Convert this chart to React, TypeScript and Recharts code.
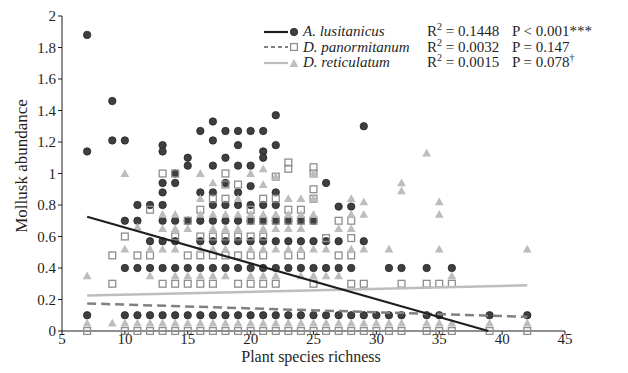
import { ScatterChart, Scatter, XAxis, YAxis } from 'recharts'

// Plant species richness (x) -> mollusk abundance values read per column
const LUSITANICUS: [number, number[]][] = [
  [7, [1.88, 1.14, 0.1]],
  [9, [1.46, 1.21]],
  [10, [1.21, 0.7, 0.4, 0.1]],
  [11, [0.8, 0.7, 0.4, 0.1]],
  [12, [0.8, 0.57, 0.4, 0.1]],
  [13, [1.18, 1.14, 0.94, 0.88, 0.8, 0.7, 0.57, 0.4, 0.1]],
  [14, [1.0, 0.94, 0.7, 0.57, 0.4, 0.1]],
  [15, [1.1, 1.05, 0.7, 0.4, 0.1]],
  [16, [1.27, 0.88, 0.7, 0.57, 0.4, 0.1]],
  [17, [1.33, 1.21, 1.05, 0.88, 0.8, 0.7, 0.57, 0.4, 0.1]],
  [18, [1.27, 1.1, 0.94, 0.8, 0.7, 0.57, 0.4, 0.1]],
  [19, [1.27, 1.18, 1.05, 0.88, 0.8, 0.7, 0.57, 0.4, 0.1]],
  [20, [1.27, 1.05, 0.92, 0.8, 0.7, 0.57, 0.4, 0.1]],
  [21, [1.27, 1.14, 1.1, 0.8, 0.7, 0.57, 0.4, 0.1]],
  [22, [1.37, 1.18, 0.88, 0.8, 0.7, 0.57, 0.4, 0.1]],
  [23, [0.7, 0.57, 0.4, 0.1]],
  [24, [0.7, 0.57, 0.4, 0.1]],
  [25, [0.7, 0.57, 0.4, 0.1]],
  [26, [0.94, 0.57, 0.4, 0.1]],
  [27, [0.79, 0.57, 0.4, 0.1]],
  [28, [0.79, 0.4, 0.1]],
  [29, [1.3, 0.57, 0.1]],
  [30, [0.1]],
  [31, [0.4, 0.1]],
  [32, [0.4, 0.1]],
  [34, [0.4, 0.1]],
  [35, [0.1]],
  [36, [0.4]],
  [39, [0.1]],
  [42, [0.1]],
]

const PANORMITANUM: [number, number[]][] = [
  [7, [0]],
  [9, [0.48, 0.3]],
  [10, [0.6, 0]],
  [11, [0.48, 0]],
  [12, [0.77, 0.48, 0]],
  [13, [1.0, 0.3, 0]],
  [14, [1.0, 0.6, 0.3, 0]],
  [15, [0.7, 0.48, 0.3, 0]],
  [16, [0.77, 0.6, 0.48, 0.3, 0]],
  [17, [0.84, 0.6, 0.48, 0.3, 0]],
  [18, [1.0, 0.93, 0.84, 0.6, 0.48, 0]],
  [19, [0.93, 0.6, 0.48, 0.3, 0]],
  [20, [0.77, 0.7, 0.6, 0.48, 0.3, 0]],
  [21, [0.84, 0.7, 0.6, 0.48, 0.3, 0]],
  [22, [0.98, 0.84, 0.7, 0.3, 0]],
  [23, [1.07, 1.03, 0.77, 0.7, 0.48, 0]],
  [24, [0.77, 0.7, 0.48, 0]],
  [25, [1.04, 1.0, 0.9, 0.84, 0.7, 0.3, 0]],
  [26, [0.59, 0]],
  [27, [0.7, 0.48, 0]],
  [28, [0.7, 0.59, 0.48, 0.3, 0]],
  [29, [0.3, 0]],
  [30, [0]],
  [31, [0]],
  [32, [0.3, 0]],
  [34, [0.3, 0]],
  [35, [0.3, 0]],
  [36, [0.3, 0]],
  [39, [0]],
  [42, [0]],
]

const RETICULATUM: [number, number[]][] = [
  [7, [0.35, 0.05]],
  [9, [0.05]],
  [10, [1.0, 0.52, 0.05]],
  [11, [0.66, 0.05]],
  [12, [0.52, 0.35, 0.05]],
  [13, [0.74, 0.65, 0.52, 0.05]],
  [14, [0.74, 0.65, 0.52, 0.35, 0.05]],
  [15, [0.65, 0.35, 0.05]],
  [16, [1.0, 0.84, 0.74, 0.52, 0.35, 0.05]],
  [17, [0.94, 0.74, 0.65, 0.52, 0.35, 0.05]],
  [18, [0.74, 0.65, 0.52, 0.35, 0.05]],
  [19, [0.84, 0.74, 0.65, 0.05]],
  [20, [1.0, 0.74, 0.52, 0.35, 0.05]],
  [21, [1.03, 0.93, 0.74, 0.65, 0.52, 0.35, 0.05]],
  [22, [0.98, 0.74, 0.65, 0.52, 0.35, 0.05]],
  [23, [0.84, 0.74, 0.65, 0.52, 0.05]],
  [24, [0.84, 0.74, 0.65, 0.52, 0.35, 0.05]],
  [25, [1.0, 0.84, 0.74, 0.52, 0.35, 0.05]],
  [26, [0.52, 0.35, 0.05]],
  [27, [0.65, 0.35, 0.05]],
  [28, [0.84, 0.74, 0.65, 0.52, 0.05]],
  [29, [0.82, 0.74, 0.52, 0.05]],
  [30, [0.05]],
  [31, [0.52, 0.05]],
  [32, [0.94, 0.89, 0.05]],
  [34, [1.13, 0.05]],
  [35, [0.82, 0.74, 0.52, 0.05]],
  [36, [0.35, 0.05]],
  [39, [0.05]],
  [42, [0.52, 0.05]],
]

// linear trend lines, endpoints
const TREND_LUS = [{ x: 7, y: 0.725 }, { x: 38.9, y: 0 }]
const TREND_PAN = [{ x: 7, y: 0.175 }, { x: 42, y: 0.09 }]
const TREND_RET = [{ x: 7, y: 0.225 }, { x: 42, y: 0.29 }]

const X_TICKS = [5, 10, 15, 20, 25, 30, 35, 40, 45]
const Y_TICKS = [0, 0.2, 0.4, 0.6, 0.8, 1, 1.2, 1.4, 1.6, 1.8, 2]

const LEGEND = [
  { name: 'A. lusitanicus', r2: '0.1448', p: 'P < 0.001***', sup: '' },
  { name: 'D. panormitanum', r2: '0.0032', p: 'P = 0.147', sup: '' },
  { name: 'D. reticulatum', r2: '0.0015', p: 'P = 0.078', sup: '†' },
]

const FONT = '"Liberation Serif", "Times New Roman", serif'
const INK = '#1f1f1f'

const flat = (cols: [number, number[]][]) => cols.flatMap(([x, ys]) => ys.map(y => ({ x, y })))

const Dot = (p: any) => <circle cx={p.cx} cy={p.cy} r={3.7} fill="#3f3f3f" stroke="#262626" strokeWidth={0.8} />
const Box = (p: any) => (
  <rect x={p.cx - 3.4} y={p.cy - 3.4} width={6.8} height={6.8} fill="none" stroke="#8e8e8e" strokeWidth={1.3} />
)
const Tri = (p: any) => (
  <path d={`M${p.cx},${p.cy - 4.4}L${p.cx + 4.4},${p.cy + 3.4}L${p.cx - 4.4},${p.cy + 3.4}Z`} fill="#bdbdbd" />
)
const None = () => <g />

const XTick = ({ x, y, payload }: any) => (
  <text x={x} y={y} dy="0.45em" textAnchor="middle" fill={INK} fontSize={15} fontFamily={FONT} style={{ fontFamily: FONT }}>
    {payload.value}
  </text>
)
const YTick = ({ x, y, payload }: any) => (
  <text x={x} y={y} dy="0.34em" textAnchor="end" fill={INK} fontSize={15} fontFamily={FONT} style={{ fontFamily: FONT }}>
    {payload.value}
  </text>
)

function LegendKey({ i }: { i: number }) {
  return (
    <svg width={38} height={14} style={{ display: 'block' }}>
      {i === 0 && <line x1={1} y1={7} x2={25} y2={7} stroke={INK} strokeWidth={2.2} />}
      {i === 1 && <line x1={1} y1={7} x2={25} y2={7} stroke="#808080" strokeWidth={2.2} strokeDasharray="4 3" />}
      {i === 2 && <line x1={1} y1={7} x2={25} y2={7} stroke="#bdbdbd" strokeWidth={2.2} />}
      {i === 0 && <Dot cx={31} cy={7} />}
      {i === 1 && <Box cx={31} cy={7} />}
      {i === 2 && <Tri cx={31} cy={7.5} />}
    </svg>
  )
}

export default function App() {
  return (
    <div style={{ position: 'absolute', left: 0, top: 0, width: 628, height: 373, background: '#fff', fontFamily: FONT }}>
      <ScatterChart width={628} height={373} margin={{ top: 16, right: 63, bottom: 12, left: 12 }} style={{ fontFamily: FONT }}>
        <XAxis
          type="number" dataKey="x" domain={[5, 45]} ticks={X_TICKS} interval={0}
          height={30} tickSize={4} stroke={INK} tick={<XTick />}
          label={() => (
            <text x={311} y={362} textAnchor="middle" fill={INK} fontSize={16} style={{ fontFamily: FONT }}>
              Plant species richness
            </text>
          )}
        />
        <YAxis
          type="number" dataKey="y" domain={[0, 2]} ticks={Y_TICKS} interval={0}
          width={50} tickSize={4} stroke={INK} tick={<YTick />}
          label={() => (
            <text x={27} y={166} transform="rotate(-90 27 166)" textAnchor="middle" fill={INK} fontSize={17} style={{ fontFamily: FONT }}>
              Mollusk abundance
            </text>
          )}
        />
        <Scatter data={flat(LUSITANICUS)} shape={Dot} isAnimationActive={false} />
        <Scatter data={flat(PANORMITANUM)} shape={Box} isAnimationActive={false} />
        <Scatter data={flat(RETICULATUM)} shape={Tri} isAnimationActive={false} />
        <Scatter data={TREND_RET} shape={None} line={{ stroke: '#bdbdbd', strokeWidth: 2.5 }} isAnimationActive={false} />
        <Scatter data={TREND_PAN} shape={None} line={{ stroke: '#808080', strokeWidth: 2.5, strokeDasharray: '9 5' }} isAnimationActive={false} />
        <Scatter data={TREND_LUS} shape={None} line={{ stroke: INK, strokeWidth: 2.2 }} isAnimationActive={false} />
      </ScatterChart>
      <div style={{ position: 'absolute', left: 263, top: 24, fontSize: 15, color: INK, lineHeight: '15.5px' }}>
        {LEGEND.map((row, i) => (
          <div key={row.name} style={{ display: 'flex', alignItems: 'center', height: 15.5 }}>
            <LegendKey i={i} />
            <span style={{ fontStyle: 'italic', width: 124, marginLeft: 2 }}>{row.name}</span>
            <span style={{ width: 85 }}>R<sup style={{ fontSize: 10, lineHeight: 0 }}>2</sup> = {row.r2}</span>
            <span>{row.p}{row.sup && <sup style={{ fontSize: 10, lineHeight: 0 }}>{row.sup}</sup>}</span>
          </div>
        ))}
      </div>
    </div>
  )
}
